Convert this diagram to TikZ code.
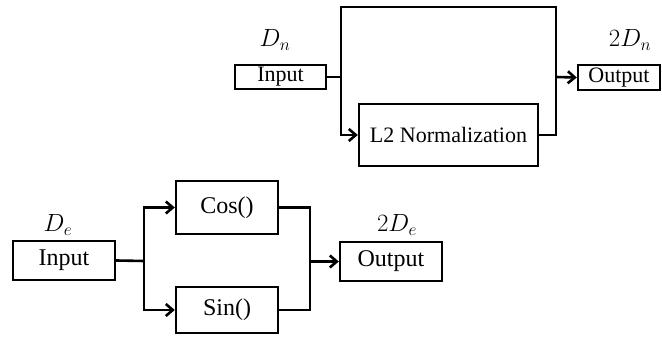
\documentclass[tikz,border=0pt]{standalone}
\usepackage{fontspec}
\setmainfont{Liberation Serif}
\usetikzlibrary{arrows.meta}
\begin{document}
\begin{tikzpicture}[x=1pt,y=1pt,
  blk/.style={draw=black,line width=2.4pt,rectangle,inner sep=0pt,font=\fontsize{22}{24}\selectfont},
  conn/.style={line width=2.6pt,line join=miter},
  arr/.style={conn,-{Straight Barb[length=7pt,width=12pt,line width=2.6pt]}},
  lbl/.style={font=\fontsize{23}{25}\selectfont,inner sep=0pt}]
\useasboundingbox (0,0) rectangle (662,-347);
% top
\node[blk,minimum width=91pt,minimum height=24pt,font=\fontsize{22}{24}\selectfont] (tin) at (280.5,-77) {Input};
\node[blk,minimum width=82pt,minimum height=25pt,font=\fontsize{22}{24}\selectfont] (tout) at (619,-77.5) {Output};
\node[blk,minimum width=179pt,minimum height=62pt,font=\fontsize{22}{24}\selectfont] (l2) at (448.5,-135) {L2 Normalization};
\node[lbl] (dn) at (275,-40) {$D_n$};
\node[lbl] (dn2) at (630,-40) {$2D_n$};
\coordinate (ts) at (341,-77);
\coordinate (tm) at (556,-77);
\coordinate (tl) at (341,-7);
\coordinate (tr) at (556,-7);
\draw[conn] (tin.east) -- (ts);
\draw[conn] (ts) -- (tl) -- (tr) -- (tm);
\draw[arr] (ts) |- (l2.west);
\draw[conn] (l2.east) -| (tm);
\draw[arr] (tm) -- (tout.west);
% bottom
\node[blk,minimum width=102pt,minimum height=39pt,font=\fontsize{24}{26}\selectfont] (bin) at (64,-260.5) {Input};
\node[blk,minimum width=102pt,minimum height=53pt,font=\fontsize{24}{26}\selectfont] (cos) at (227,-207.5) {Cos()};
\node[blk,minimum width=102pt,minimum height=46pt,font=\fontsize{24}{26}\selectfont] (sin) at (227,-310) {Sin()};
\node[blk,minimum width=102pt,minimum height=39pt,font=\fontsize{24}{26}\selectfont] (bout) at (391,-261.5) {Output};
\node[lbl,font=\fontsize{25}{27}\selectfont] (de) at (58,-225) {$D_e$};
\node[lbl,font=\fontsize{25}{27}\selectfont] (de2) at (397,-225) {$2D_e$};
\coordinate (bs) at (144,-261);
\coordinate (bm) at (310,-261.5);
\draw[conn] (bin.east) -- (bs);
\draw[arr] (bs) |- (cos.west);
\draw[arr] (bs) |- (sin.west);
\draw[conn] (cos.east) -| (bm);
\draw[conn] (sin.east) -| (bm);
\draw[arr] (bm) -- (bout.west);
\end{tikzpicture}
\end{document}
